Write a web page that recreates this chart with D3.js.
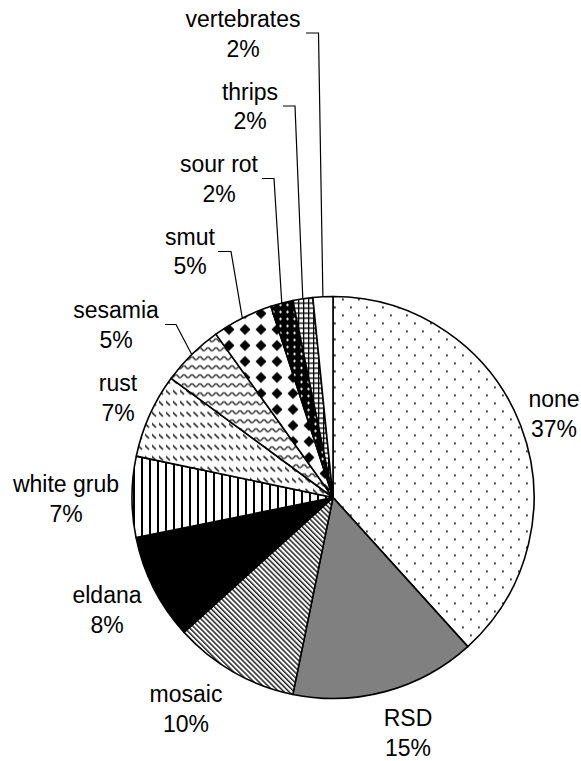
<!DOCTYPE html>
<html>
<head>
<meta charset="utf-8">
<script src="https://cdn.jsdelivr.net/npm/d3@7"></script>
<style>
  html, body { margin: 0; padding: 0; background: #fff; }
  svg { display: block; }
  text { font-family: "Liberation Sans", Arial, sans-serif; font-size: 23px; fill: #000; }
</style>
</head>
<body>
<svg id="chart" width="581" height="761"></svg>
<script>
// ---- data ----
const categories = ["none", "RSD", "mosaic", "eldana", "white grub", "rust", "sesamia", "smut", "sour rot", "thrips", "vertebrates"];
const values = [38.3, 14.9, 10.1, 8.5, 6.5, 6.8, 5.0, 4.9, 1.8, 1.6, 1.6];
const pctLabels = ["37%", "15%", "10%", "8%", "7%", "7%", "5%", "5%", "2%", "2%", "2%"];

// ---- layout (label positions: centre x, baseline y of first line; optional leader elbow) ----
const labelLayout = {
  "none":        { x: 554, y: 407 },
  "RSD":         { x: 408, y: 726 },
  "mosaic":      { x: 186, y: 702 },
  "eldana":      { x: 107, y: 603 },
  "white grub":  { x: 66,  y: 492 },
  "rust":        { x: 118, y: 391 },
  "sesamia":     { x: 116, y: 318, leader: [[165, 324.5], [176, 324.5]] },
  "smut":        { x: 190, y: 244.5, leader: [[218, 251.5], [231, 251.5]] },
  "sour rot":    { x: 219, y: 172, leader: [[262, 178.5], [274, 178.5]] },
  "thrips":      { x: 250, y: 99.5, leader: [[283, 106], [295, 106]] },
  "vertebrates": { x: 243, y: 27, leader: [[306, 33], [318.5, 33]] }
};
const lineGap = 29.5;

const svg = d3.select("#chart");
const defs = svg.append("defs");

// ---- fill patterns ----
function pat(id, w, h, bg, transform) {
  const p = defs.append("pattern").attr("id", id).attr("patternUnits", "userSpaceOnUse")
    .attr("width", w).attr("height", h);
  if (transform) p.attr("patternTransform", transform);
  p.append("rect").attr("width", w).attr("height", h).attr("fill", bg);
  return p;
}
// none: sparse dots
let p = pat("p-none", 16, 16, "#fff");
p.append("rect").attr("x", 1).attr("y", 1).attr("width", 1.8).attr("height", 1.8).attr("fill", "#222");
p.append("rect").attr("x", 9).attr("y", 9).attr("width", 1.8).attr("height", 1.8).attr("fill", "#222");
// RSD: fine checker
p = pat("p-rsd", 2, 2, "#fff");
p.append("rect").attr("x", 0).attr("y", 0).attr("width", 1).attr("height", 1).attr("fill", "#000");
p.append("rect").attr("x", 1).attr("y", 1).attr("width", 1).attr("height", 1).attr("fill", "#000");
// mosaic: downward diagonal stripes
p = pat("p-mosaic", 3.6, 10, "#fff", "rotate(-45)");
p.append("rect").attr("x", 0).attr("y", 0).attr("width", 1.5).attr("height", 10).attr("fill", "#222");
// eldana: solid black
p = pat("p-eldana", 4, 4, "#000");
// white grub: vertical lines
p = pat("p-wgrub", 8, 8, "#fff");
p.append("rect").attr("x", 0).attr("y", 0).attr("width", 2).attr("height", 8).attr("fill", "#000");
// rust: dashed downward diagonal
p = pat("p-rust", 7, 11, "#fff");
p.append("path").attr("d", "M0.5,2.5 L5,7").attr("stroke", "#222").attr("stroke-width", 1.6);
// sesamia: wave
p = pat("p-sesamia", 8, 9, "#fff");
p.append("path").attr("d", "M0,6 L2,3.5 L4,3.5 L6,6 L8,6").attr("fill", "none")
  .attr("stroke", "#333").attr("stroke-width", 1.4).attr("stroke-linejoin", "round");
// smut: solid diamonds
p = pat("p-smut", 16, 16, "#fff");
p.append("path").attr("d", "M8,2.5 L13.5,8 L8,13.5 L2.5,8Z").attr("fill", "#000");
// sour rot: black with white dots
p = pat("p-sour", 7, 7, "#000");
p.append("path").attr("d", "M3.5,2 L5,3.5 L3.5,5 L2,3.5Z").attr("fill", "#fff");
// thrips: grid
p = pat("p-thrips", 5, 5, "#fff");
p.append("rect").attr("x", 0).attr("y", 0).attr("width", 5).attr("height", 1.3).attr("fill", "#000");
p.append("rect").attr("x", 0).attr("y", 0).attr("width", 1.3).attr("height", 5).attr("fill", "#000");
// vertebrates: white
p = pat("p-vert", 4, 4, "#fff");

const patternIds = ["p-none", "p-rsd", "p-mosaic", "p-eldana", "p-wgrub", "p-rust", "p-sesamia", "p-smut", "p-sour", "p-thrips", "p-vert"];
const fillScale = d3.scaleOrdinal().domain(categories).range(patternIds.map(id => `url(#${id})`));

// ---- pie ----
const cx = 333, cy = 497.5, r = 201;
const pie = d3.pie().sort(null).value(d => d.value);
const data = categories.map((c, i) => ({ name: c, value: values[i], pct: pctLabels[i] }));
const arcs = pie(data);
const arc = d3.arc().innerRadius(0).outerRadius(r);
const edgeArc = d3.arc().innerRadius(r).outerRadius(r);

const g = svg.append("g").attr("transform", `translate(${cx},${cy})`);
g.selectAll("path.slice").data(arcs).join("path")
  .attr("class", "slice")
  .attr("d", arc)
  .attr("fill", d => fillScale(d.data.name))
  .attr("stroke", "#000")
  .attr("stroke-width", 1.6)
  .attr("stroke-linejoin", "round");

// ---- leader lines ----
arcs.forEach(a => {
  const L = labelLayout[a.data.name];
  if (!L.leader) return;
  const [ex, ey] = edgeArc.centroid(a);
  const pts = L.leader.concat([[cx + ex, cy + ey]]);
  svg.append("path")
    .attr("d", d3.line()(pts))
    .attr("fill", "none")
    .attr("stroke", "#000")
    .attr("stroke-width", 1.2);
});

// ---- labels ----
arcs.forEach(a => {
  const L = labelLayout[a.data.name];
  const t = svg.append("text").attr("text-anchor", "middle");
  t.append("tspan").attr("x", L.x).attr("y", L.y).text(a.data.name);
  t.append("tspan").attr("x", L.x).attr("y", L.y + lineGap).text(a.data.pct);
});
</script>
</body>
</html>
